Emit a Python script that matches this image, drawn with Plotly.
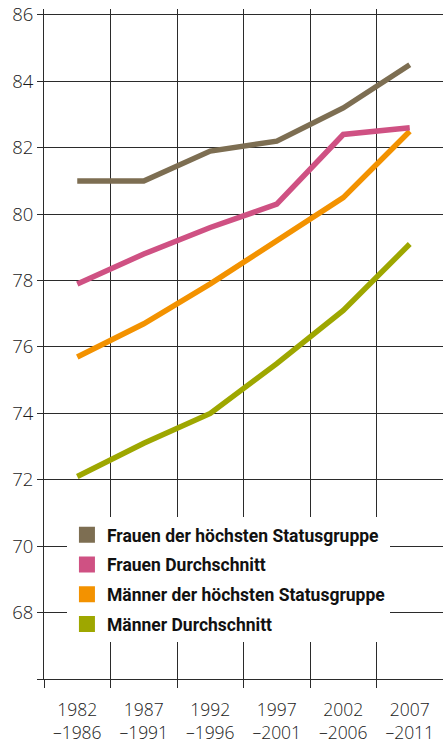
import plotly.graph_objects as go

periods = ["1982<br>–1986", "1987<br>–1991", "1992<br>–1996", "1997<br>–2001", "2002<br>–2006", "2007<br>–2011"]
frauen_hoch = [81.0, 81.0, 81.9, 82.2, 83.2, 84.5]
frauen_avg = [77.9, 78.8, 79.6, 80.3, 82.4, 82.6]
maenner_hoch = [75.7, 76.7, 77.9, 79.2, 80.5, 82.5]
maenner_avg = [72.1, 73.1, 74.0, 75.5, 77.1, 79.1]

series = [
    ("Frauen der höchsten Statusgruppe", frauen_hoch, "#7D6E52"),
    ("Frauen Durchschnitt", frauen_avg, "#CF5183"),
    ("Männer der höchsten Statusgruppe", maenner_hoch, "#F39200"),
    ("Männer Durchschnitt", maenner_avg, "#9EA700"),
]
y_ticks = list(range(66, 87, 2))
y_labels = ["" if v == 66 else str(v) for v in y_ticks]

fig = go.Figure()
# draw lines in reverse so the top series is on top
for name, vals, col in reversed(series):
    fig.add_trace(go.Scatter(x=periods, y=vals, mode="lines", name=name,
                             line=dict(color=col, width=5.5), showlegend=False,
                             hoverinfo="skip"))
for i, (name, vals, col) in enumerate(series):
    fig.add_trace(go.Scatter(x=[periods[0]], y=[None], mode="markers", name=name,
                             legendgroup=f"g{i}",
                             marker=dict(symbol="square", size=20, color=col)))

grid = "#2b2b2b"
fig.update_layout(
    width=443, height=743,
    margin=dict(l=44, r=0, t=9, b=64),
    paper_bgcolor="white", plot_bgcolor="white",
    font=dict(family="Open Sans", size=17, color="#222222"),
    showlegend=True,
    legend=dict(x=0.0575, y=0.242, xanchor="left", yanchor="top",
                bgcolor="white", borderwidth=0,
                traceorder="grouped", tracegroupgap=4,
                font=dict(family="Roboto", size=17.5, color="#111111", weight=700)),
    xaxis=dict(type="category", tickson="boundaries", ticks="outside", ticklen=8,
               tickcolor=grid, showgrid=True, gridcolor=grid, gridwidth=1,
               showline=True, linecolor=grid, linewidth=1, automargin=False,
               ticklabelstandoff=15,
               tickfont=dict(family="Open Sans", size=17.5, color="#1a1a1a", weight=300),
               range=[-0.5, 5.5], fixedrange=True),
    yaxis=dict(range=[66, 86.18], tickvals=y_ticks, ticktext=y_labels,
               ticks="outside", ticklen=6, tickcolor=grid, automargin=False,
               showgrid=True, gridcolor=grid, gridwidth=1, zeroline=False,
               showline=True, linecolor=grid, linewidth=1, fixedrange=True,
               tickfont=dict(family="Open Sans", size=18.5, color="#1a1a1a", weight=300)),
)
fig.write_html("out.html", config={"displayModeBar": False},
               post_script="document.body.style.margin='0';document.body.style.overflow='hidden';")
